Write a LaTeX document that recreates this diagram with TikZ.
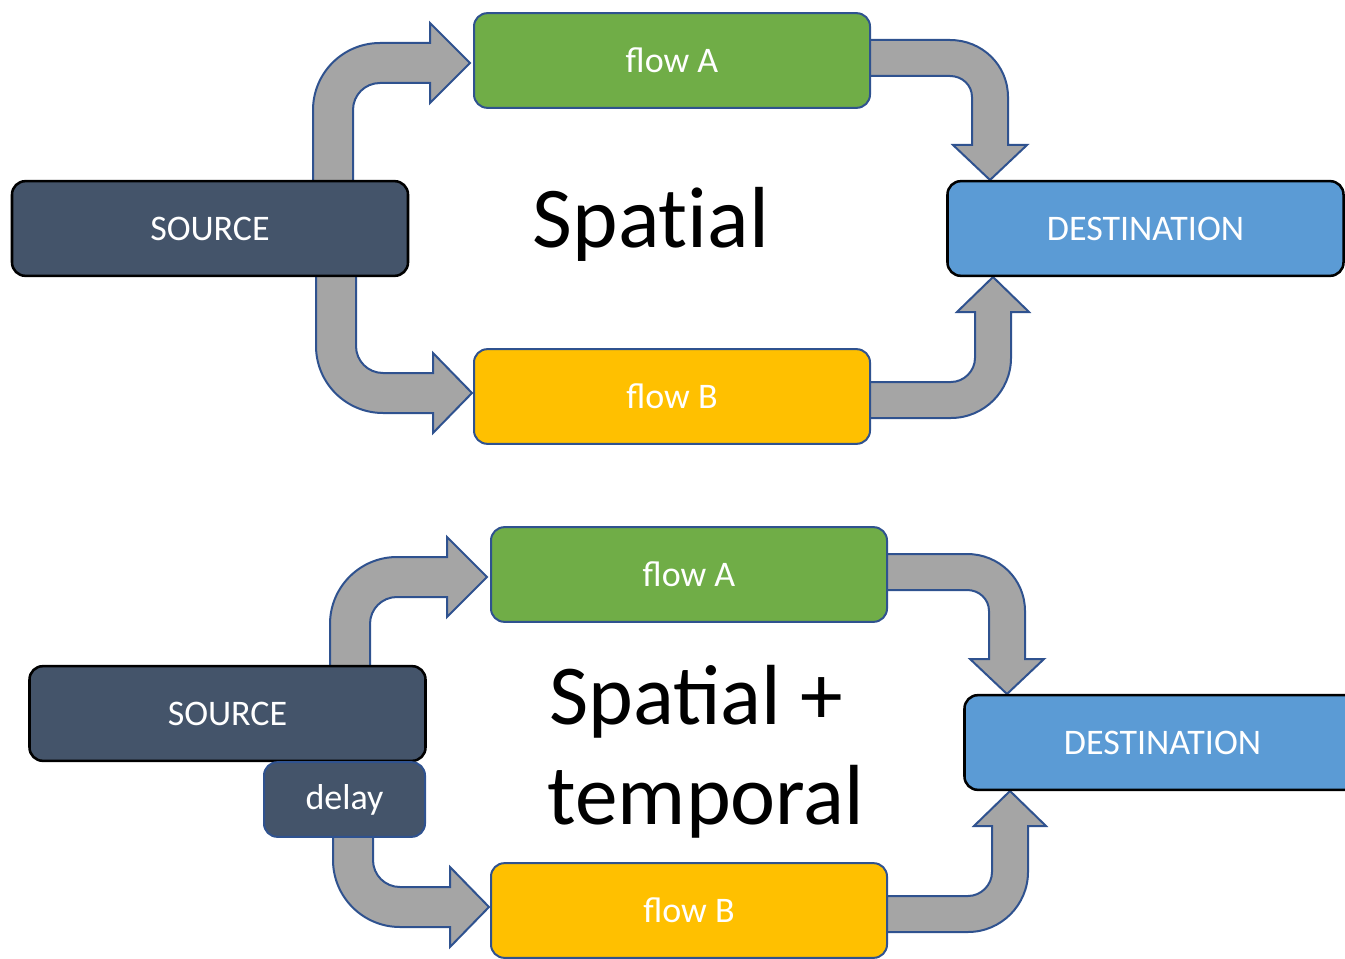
\documentclass[tikz,border=0pt]{standalone}
\usepackage{fontspec}
\setmainfont{Carlito}
\definecolor{cDark}{HTML}{44546A}
\definecolor{cGreen}{HTML}{70AD47}
\definecolor{cYellow}{HTML}{FFC000}
\definecolor{cBlue}{HTML}{5B9BD5}
\definecolor{cGray}{HTML}{A5A5A5}
\definecolor{cLine}{HTML}{2F528F}
\tikzset{
  box/.style={rectangle, rounded corners=10pt, minimum width=297pt, minimum height=71pt,
    inner sep=0pt, text=white, font=\fontsize{27}{32}\selectfont},
  darkbox/.style={box, fill=cDark, draw=black, line width=1.9pt},
  destbox/.style={box, fill=cBlue, draw=black, line width=1.9pt},
  flowa/.style={box, fill=cGreen, draw=cLine, line width=1.5pt},
  flowb/.style={box, fill=cYellow, draw=cLine, line width=1.5pt},
  delaybox/.style={box, fill=cDark, draw=cLine, line width=1.5pt, minimum width=120.75pt, minimum height=56pt},
  bigtext/.style={font=\fontsize{64}{75}\selectfont, align=center, text=black},
  blockarrow/.style={fill=cGray, draw=cLine, line width=1.5pt, line join=miter}
}
\begin{document}
\begin{tikzpicture}[x=0.75pt, y=-0.75pt]
\useasboundingbox (0,0) rectangle (1345,959);
\clip (0,0) rectangle (1345,959);
% ---------- top panel ----------
\draw[blockarrow] (313,185) -- (313,110) .. controls (313,73) and (343,43) .. (380,43) -- (430,43) -- (430,23) -- (470,63) -- (430,103) -- (430,83) -- (380,83) .. controls (365,83) and (353,95) .. (353,110) -- (353,185) -- cycle;
\draw[blockarrow] (316,272) -- (316,346) .. controls (316,383) and (346,413) .. (383,413) -- (433,413) -- (433,433) -- (472,393) -- (433,353) -- (433,373) -- (383,373) .. controls (368,373) and (356,361) .. (356,346) -- (356,272) -- cycle;
\draw[blockarrow] (866,40) -- (950,40) .. controls (982,40) and (1008,65) .. (1008,97) -- (1008,145) -- (1027,145) -- (990,180) -- (953,145) -- (972,145) -- (972,97) .. controls (972,85) and (962,76) .. (950,76) -- (866,76) -- cycle;
\draw[blockarrow] (866,418) -- (951,418) .. controls (984,418) and (1011,391) .. (1011,358) -- (1011,312) -- (1029,312) -- (993,277) -- (957,312) -- (975,312) -- (975,358) .. controls (975,371) and (964,382) .. (951,382) -- (866,382) -- cycle;
\node[darkbox] (srcT) at (210,228.5) {SOURCE};
\node[flowa] (faT) at (672,60.5) {flow A};
\node[flowb] (fbT) at (672,396.5) {flow B};
\node[destbox] (dstT) at (1145.5,228.5) {DESTINATION};
\node[bigtext, font=\fontsize{65}{75}\selectfont\addfontfeature{Ligatures=NoCommon}] (spT) at (651,224) {Spatial};
% ---------- bottom panel ----------
\begin{scope}[shift={(17,514)}]
\draw[blockarrow] (313,156) -- (313,110) .. controls (313,73) and (343,43) .. (380,43) -- (430,43) -- (430,23) -- (470,63) -- (430,103) -- (430,83) -- (380,83) .. controls (365,83) and (353,95) .. (353,110) -- (353,156) -- cycle;
\draw[blockarrow] (316,318) -- (316,346) .. controls (316,383) and (346,413) .. (383,413) -- (433,413) -- (433,433) -- (472,393) -- (433,353) -- (433,373) -- (383,373) .. controls (368,373) and (356,361) .. (356,346) -- (356,318) -- cycle;
\draw[blockarrow] (866,40) -- (950,40) .. controls (982,40) and (1008,65) .. (1008,97) -- (1008,145) -- (1027,145) -- (990,180) -- (953,145) -- (972,145) -- (972,97) .. controls (972,85) and (962,76) .. (950,76) -- (866,76) -- cycle;
\draw[blockarrow] (866,418) -- (951,418) .. controls (984,418) and (1011,391) .. (1011,358) -- (1011,312) -- (1029,312) -- (993,277) -- (957,312) -- (975,312) -- (975,358) .. controls (975,371) and (964,382) .. (951,382) -- (866,382) -- cycle;
\node[darkbox] (srcB) at (210.5,199.5) {SOURCE};
\node[delaybox] (dlyB) at (327.5,285.5) {delay};
\node[flowa] (faB) at (672,60.5) {flow A};
\node[flowb] (fbB) at (672,396.5) {flow B};
\node[destbox] (dstB) at (1145.5,228.5) {DESTINATION};
\node[bigtext] (spB) at (689,238) {Spatial +\rule{15pt}{0pt}\\temporal};
\end{scope}
\end{tikzpicture}
\end{document}
